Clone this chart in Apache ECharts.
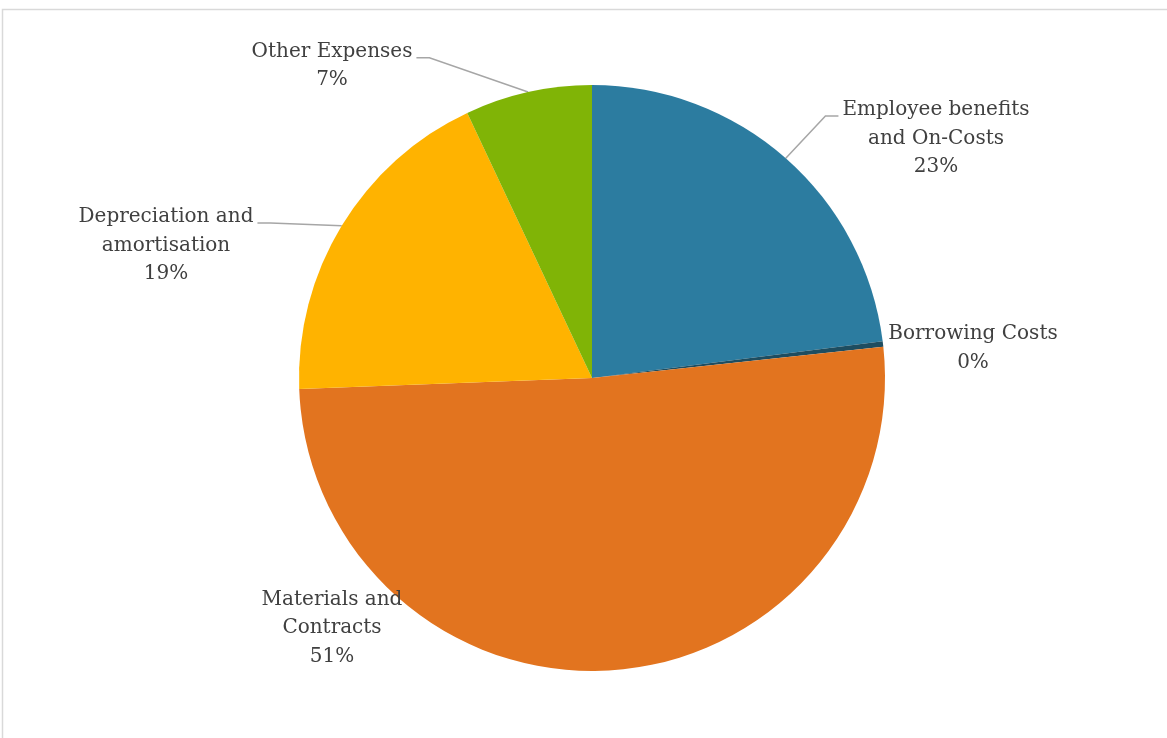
<!DOCTYPE html>
<html>
<head>
<meta charset="utf-8">
<title>Expenses by type</title>
<script src="https://cdn.jsdelivr.net/npm/echarts@6/dist/echarts.min.js"></script>
<style>
  html, body { margin: 0; padding: 0; background: #ffffff; }
  #chart { width: 1167px; height: 738px; }
</style>
</head>
<body>
<div id="chart"></div>
<script>
// Expense categories (line breaks as shown in the labels)
const categories = [
  'Employee benefits\nand On-Costs',
  'Borrowing Costs',
  'Materials and\nContracts',
  'Depreciation and\namortisation',
  'Other Expenses'
];
// Share of total expenses, percent
const shares = [23.0, 0.3, 51.1, 18.6, 7.0];
const colors = ['#2C7CA0', '#1E4D60', '#E2741F', '#FFB300', '#80B406'];
// Which slices get a leader line
const showLine = [true, false, false, true, true];
// Label block centres (x, y) in pixels
const labelCenters = [[936, 138.5], [973, 348.5], [332, 628], [166, 245.5], [332, 66]];

const FONT = '"DejaVu Serif", "Liberation Serif", serif';
const LINE_H = 28.5;

const chart = echarts.init(document.getElementById('chart'), null, { renderer: 'canvas' });

chart.setOption({
  animation: false,
  backgroundColor: '#ffffff',
  graphic: [{
    type: 'rect',
    silent: true,
    z: -10,
    shape: { x: 2.5, y: 9.5, width: 1300, height: 900 },
    style: { fill: 'none', stroke: '#d9d9d9', lineWidth: 1.5 }
  }],
  series: [{
    type: 'pie',
    center: [592, 378],
    radius: 293,
    startAngle: 90,
    clockwise: true,
    avoidLabelOverlap: false,
    emphasis: { disabled: true },
    itemStyle: { borderWidth: 0 },
    label: {
      show: true,
      position: 'outside',
      fontFamily: FONT,
      fontSize: 20,
      lineHeight: LINE_H,
      color: '#404040',
      align: 'center',
      formatter: p => p.name + '\n' + Math.round(p.percent) + '%'
    },
    labelLine: {
      show: true,
      lineStyle: { color: '#a6a6a6', width: 1.5 }
    },
    labelLayout: function (p) {
      const c = labelCenters[p.dataIndex];
      const res = { x: c[0], y: c[1], align: 'center', verticalAlign: 'middle' };
      if (showLine[p.dataIndex] && p.labelLinePoints) {
        const anchor = p.labelLinePoints[0];
        const w = p.labelRect.width, h = p.labelRect.height;
        const lineY = c[1] - h / 2 + LINE_H / 2 + 6;
        const onLeft = anchor[0] > c[0];
        const endX = onLeft ? c[0] + w / 2 + 4 : c[0] - w / 2 - 4;
        const elbowX = onLeft ? endX + 13 : endX - 13;
        res.labelLinePoints = [anchor, [elbowX, lineY], [endX, lineY]];
      }
      return res;
    },
    data: categories.map((name, i) => ({
      name: name,
      value: shares[i],
      itemStyle: { color: colors[i] },
      labelLine: { show: showLine[i] }
    }))
  }]
});
</script>
</body>
</html>
